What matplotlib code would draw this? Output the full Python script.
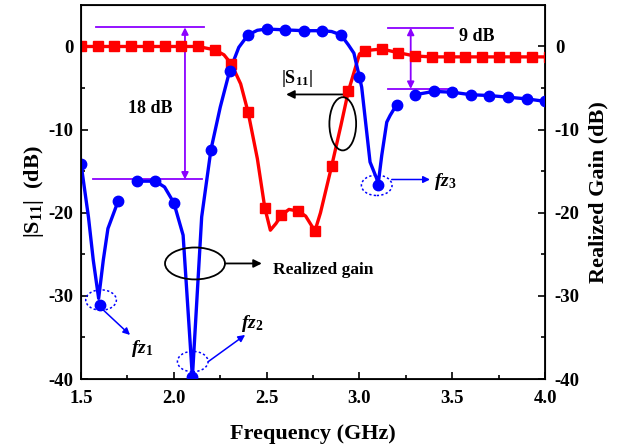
import matplotlib
matplotlib.use("Agg")
import matplotlib.pyplot as plt
from matplotlib.patches import Ellipse
import numpy as np

plt.rcParams['font.family'] = ['Liberation Serif', 'DejaVu Serif']
plt.rcParams['font.weight'] = 'bold'
plt.rcParams['axes.unicode_minus'] = False
plt.rcParams['mathtext.fontset'] = 'custom'
plt.rcParams['mathtext.rm'] = 'Liberation Serif:bold'
plt.rcParams['mathtext.it'] = 'Liberation Serif:italic:bold'
plt.rcParams['mathtext.bf'] = 'Liberation Serif:bold'

# |S11| (dB): markers every 0.09 GHz, line with extra vertices
s11_f = [1.50, 1.59, 1.68, 1.77, 1.86, 1.95, 2.04, 2.13, 2.22, 2.31, 2.40, 2.49, 2.58, 2.67,
         2.76, 2.85, 2.94, 3.03, 3.12, 3.21, 3.30, 3.39, 3.48, 3.57, 3.66, 3.75, 3.84, 3.93, 4.02]
s11_db = [0, 0, 0, 0, 0, 0, 0, 0, -0.4, -2.1, -7.9, -19.4, -20.3, -19.8,
          -22.2, -14.4, -5.4, -0.5, -0.3, -0.75, -1.15, -1.25, -1.25, -1.25, -1.25, -1.25, -1.25, -1.25, -1.25]
s11_line_f = [1.50, 2.13, 2.22, 2.27, 2.31, 2.36, 2.40, 2.45, 2.49, 2.52, 2.55, 2.58, 2.62, 2.67,
              2.71, 2.76, 2.79, 2.85, 2.90, 2.94, 3.00, 3.03, 3.12, 3.21, 3.30, 3.39, 4.02]
s11_line_db = [0, 0, -0.4, -1.0, -2.1, -4.5, -7.9, -13.5, -19.4, -22.1, -21.3, -20.3, -19.6, -19.8,
               -20.4, -22.2, -20.0, -14.4, -9.5, -5.4, -0.9, -0.5, -0.3, -0.75, -1.15, -1.25, -1.25]

# Realized gain (dB): markers every 0.1 GHz, line with breaks
gain_f = [1.5, 1.6, 1.7, 1.8, 1.9, 2.0, 2.1, 2.2, 2.3, 2.4, 2.5, 2.6, 2.7, 2.8, 2.9,
          3.0, 3.1, 3.2, 3.3, 3.4, 3.5, 3.6, 3.7, 3.8, 3.9, 4.0]
gain_db = [-14.1, -31.1, -18.6, -16.2, -16.2, -18.8, -39.8, -12.4, -3.0, 1.4, 2.1, 2.0, 1.9, 1.9, 1.4,
           -3.7, -16.7, -7.0, -5.8, -5.4, -5.5, -5.8, -5.9, -6.1, -6.3, -6.6]
gain_line_f = [1.5, 1.54, 1.566, 1.595, 1.62, 1.645, 1.7, np.nan,
               1.8, 1.9, 1.95, 2.0, 2.05, 2.1, 2.15, 2.2, 2.25, 2.3, 2.35, 2.4, 2.45, 2.5, 2.6, 2.7,
               2.8, 2.85, 2.9, 2.94, 2.97, 3.0, 3.012, 3.057, 3.093, 3.1, 3.12, 3.147, 3.165, 3.2, np.nan,
               3.3, 3.4, 3.5, 3.6, 3.7, 3.8, 3.9, 4.0]
gain_line_db = [-14.1, -20.5, -25.7, -30.3, -25.7, -21.9, -18.6, np.nan,
                -16.2, -16.2, -16.9, -18.8, -22.7, -39.8, -20.5, -12.4, -7.3, -3.0, -0.1, 1.4, 1.95, 2.1, 2.0, 1.9,
                1.9, 1.8, 1.4, 0.2, -0.8, -3.7, -4.9, -13.9, -15.9, -16.7, -13.1, -9.1, -8.3, -7.0, np.nan,
                -5.8, -5.4, -5.5, -5.8, -5.9, -6.1, -6.3, -6.6]

fig = plt.figure(figsize=(6.28, 4.48), dpi=100)
ax = fig.add_axes([0.129, 0.154, 0.739, 0.835])

ax.plot(s11_line_f, s11_line_db, color='#ff0000', lw=2.4, zorder=3)
ax.plot(s11_f, s11_db, ls='none', marker='s', ms=6.5, color='#ff0000', zorder=4)
ax.plot(gain_line_f, gain_line_db, color='#0000ff', lw=2.4, zorder=3)
ax.plot(gain_f, gain_db, ls='none', marker='o', ms=7.5, color='#0000ff', zorder=4)

ax.set_xlim(1.5, 4.0)
ax.set_ylim(-40, 5)
ax.set_xticks([1.5, 2.0, 2.5, 3.0, 3.5, 4.0])
ax.set_xticks(np.arange(1.75, 4.0, 0.5), minor=True)
ax.set_yticks([-40, -30, -20, -10, 0])
ax.set_yticks([-35, -25, -15, -5], minor=True)
ax.tick_params(axis='both', which='both', direction='in', top=False, labelsize=13.5)
ax.tick_params(axis='x', which='major', pad=8)
ax.tick_params(axis='y', which='major', pad=5.5)
ax.tick_params(which='major', length=5, width=1.2)
ax.tick_params(which='minor', length=3, width=1.2)
for s in ax.spines.values():
    s.set_linewidth(1.3)
ax.set_xlabel('Frequency (GHz)', fontsize=16, fontweight='bold', labelpad=12)
ax.set_ylabel(r'|S$_{11}$|  (dB)', fontsize=16, fontweight='bold', labelpad=2)

ax2 = ax.twinx()
ax2.set_ylim(-40, 5)
ax2.set_yticks([-40, -30, -20, -10, 0])
ax2.set_yticks([-35, -25, -15, -5], minor=True)
ax2.tick_params(axis='y', which='both', direction='in', labelsize=13.5)
ax2.tick_params(which='major', length=5, width=1.2, pad=7)
ax2.tick_params(which='minor', length=3, width=1.2)
ax2.set_ylabel('Realized Gain (dB)', fontsize=16, fontweight='bold', labelpad=6)

purple = '#8b00ff'
# 18 dB marker
ax.plot([1.58, 2.163], [2.3, 2.3], color=purple, lw=1.3)
ax.plot([1.566, 2.15], [-16.0, -16.0], color=purple, lw=1.3)
ax.annotate('', xy=(2.06, 2.3), xytext=(2.06, -16.0),
            arrowprops=dict(arrowstyle='<|-|>', color=purple, lw=1.3, mutation_scale=10, shrinkA=0, shrinkB=0))
ax.text(1.872, -7.5, '18 dB', fontsize=13, fontweight='bold', ha='center', va='center')
# 9 dB marker
ax.plot([3.156, 3.506], [2.25, 2.25], color=purple, lw=1.3)
ax.plot([3.156, 3.52], [-5.1, -5.1], color=purple, lw=1.3)
ax.annotate('', xy=(3.276, 2.25), xytext=(3.276, -5.1),
            arrowprops=dict(arrowstyle='<|-|>', color=purple, lw=1.3, mutation_scale=10, shrinkA=0, shrinkB=0))
ax.text(3.632, 1.2, '9 dB', fontsize=13, fontweight='bold', ha='center', va='center')

# |S11| callout
ax.add_patch(Ellipse((2.91, -9.3), 0.144, 6.4, fill=False, ec='black', lw=1.3, zorder=5))
ax.annotate('', xy=(2.605, -5.77), xytext=(2.91, -5.77),
            arrowprops=dict(arrowstyle='-|>', color='black', lw=1.3, mutation_scale=12, shrinkA=0, shrinkB=0))
ax.text(2.662, -3.9, r'|S$_{11}$|', fontsize=13, ha='center', va='center')

# Realized gain callout
ax.add_patch(Ellipse((2.114, -26.1), 0.323, 3.84, fill=False, ec='black', lw=1.3, zorder=5))
ax.annotate('', xy=(2.474, -26.1), xytext=(2.276, -26.1),
            arrowprops=dict(arrowstyle='-|>', color='black', lw=1.3, mutation_scale=12, shrinkA=0, shrinkB=0))
ax.text(2.535, -26.9, 'Realized gain', fontsize=12.5, fontweight='bold', ha='left', va='center')

# zero markers
zeros = [((1.608, -30.5), (1.62, -31.7), (1.764, -34.7), (1.827, -36.3), '1'),
         ((2.102, -37.9), (2.186, -37.9), (2.384, -34.7), (2.42, -33.3), '2'),
         ((3.093, -16.7), (3.174, -16.0), (3.38, -16.0), (3.461, -16.3), '3')]
for c, a0, a1, t, n in zeros:
    ax.add_patch(Ellipse(c, 0.165, 2.45, fill=False, ec='#0000ff', lw=1.1, ls=(0, (1.5, 1.5)), zorder=5))
    ax.annotate('', xy=a1, xytext=a0,
                arrowprops=dict(arrowstyle='-|>', color='#0000ff', lw=1.1, mutation_scale=10, shrinkA=0, shrinkB=0))
    ax.text(t[0], t[1], r'$fz_{\mathit{%s}}$' % n, fontsize=14, ha='center', va='center')

for lab in ax.get_xticklabels() + ax.get_yticklabels() + ax2.get_yticklabels():
    lab.set_fontweight('bold')

fig.savefig('out.png', dpi=100)
